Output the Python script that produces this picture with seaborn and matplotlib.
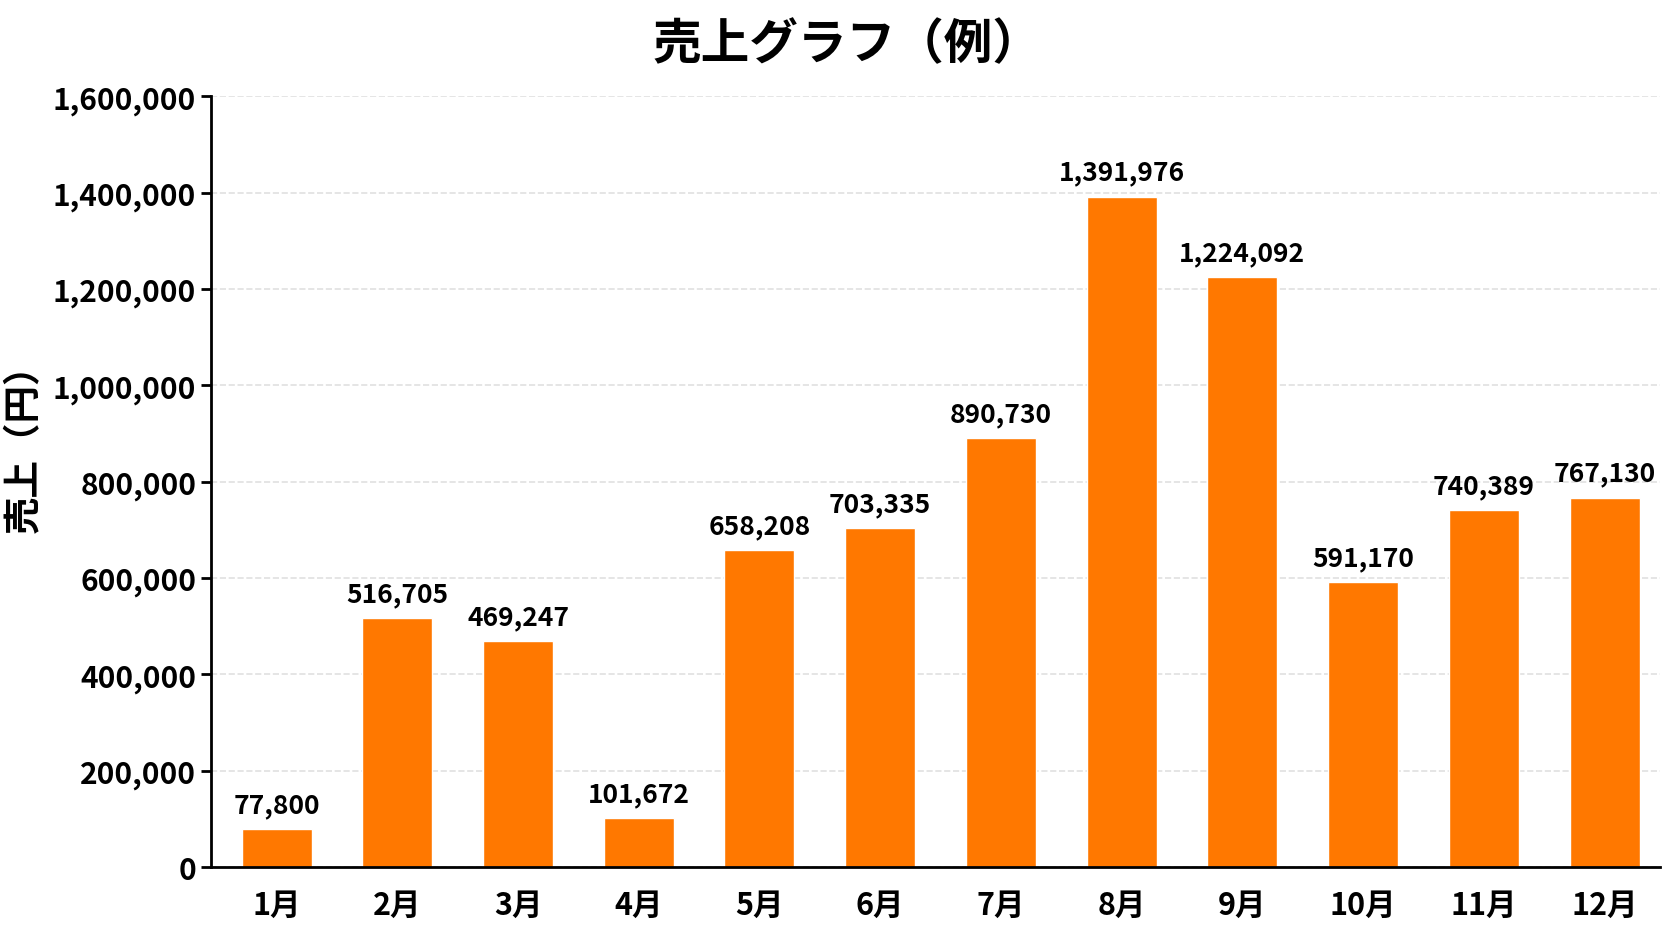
import matplotlib
matplotlib.use("Agg")
import matplotlib.pyplot as plt
import matplotlib.ticker as mticker
import seaborn as sns
import pandas as pd

months = ["1月", "2月", "3月", "4月", "5月", "6月",
          "7月", "8月", "9月", "10月", "11月", "12月"]
sales = [77800, 516705, 469247, 101672, 658208, 703335,
         890730, 1391976, 1224092, 591170, 740389, 767130]

sns.set_theme(style="white")
plt.rcParams["font.family"] = ["Noto Sans CJK JP", "DejaVu Sans"]
plt.rcParams["font.weight"] = "bold"
plt.rcParams["text.color"] = "black"
plt.rcParams["axes.labelcolor"] = "black"
plt.rcParams["xtick.color"] = "black"
plt.rcParams["ytick.color"] = "black"

df = pd.DataFrame({"month": months, "sales": sales})

fig, ax = plt.subplots(figsize=(16.78, 9.37), dpi=100)
sns.barplot(data=df, x="month", y="sales", color="#FF7800", saturation=1,
            width=0.58, ax=ax)

for i, v in enumerate(sales):
    ax.annotate(f"{v:,}", (i, v), xytext=(0, 8), textcoords="offset points",
                ha="center", va="bottom", fontsize=19, fontweight="bold",
                color="black")

ax.set_xlim(-0.545, 11.455)
ax.set_ylim(0, 1600000)
ax.yaxis.set_major_locator(mticker.MultipleLocator(200000))
ax.yaxis.set_major_formatter(mticker.FuncFormatter(lambda x, p: f"{int(x):,}"))
ax.grid(axis="y", linestyle="--", color="#e0e0e0", linewidth=1.2)
ax.set_axisbelow(True)
ax.set_xlabel("")
ax.set_ylabel("売上（円）", fontsize=27, fontweight="bold")
ax.yaxis.set_label_coords(-0.116, 0.557)
fig.suptitle("売上グラフ（例）", fontsize=35, fontweight="bold",
             x=0.505, y=0.952, va="center")

for s in ["top", "right"]:
    ax.spines[s].set_visible(False)
for s in ["left", "bottom"]:
    ax.spines[s].set_color("black")
    ax.spines[s].set_linewidth(2)

ax.tick_params(axis="y", length=7, width=2, labelsize=21.5, left=True)
ax.tick_params(axis="x", length=0, labelsize=22, pad=16)

fig.subplots_adjust(left=0.1256, right=0.989, top=0.896, bottom=0.0737)
fig.savefig("out.png", dpi=100)
